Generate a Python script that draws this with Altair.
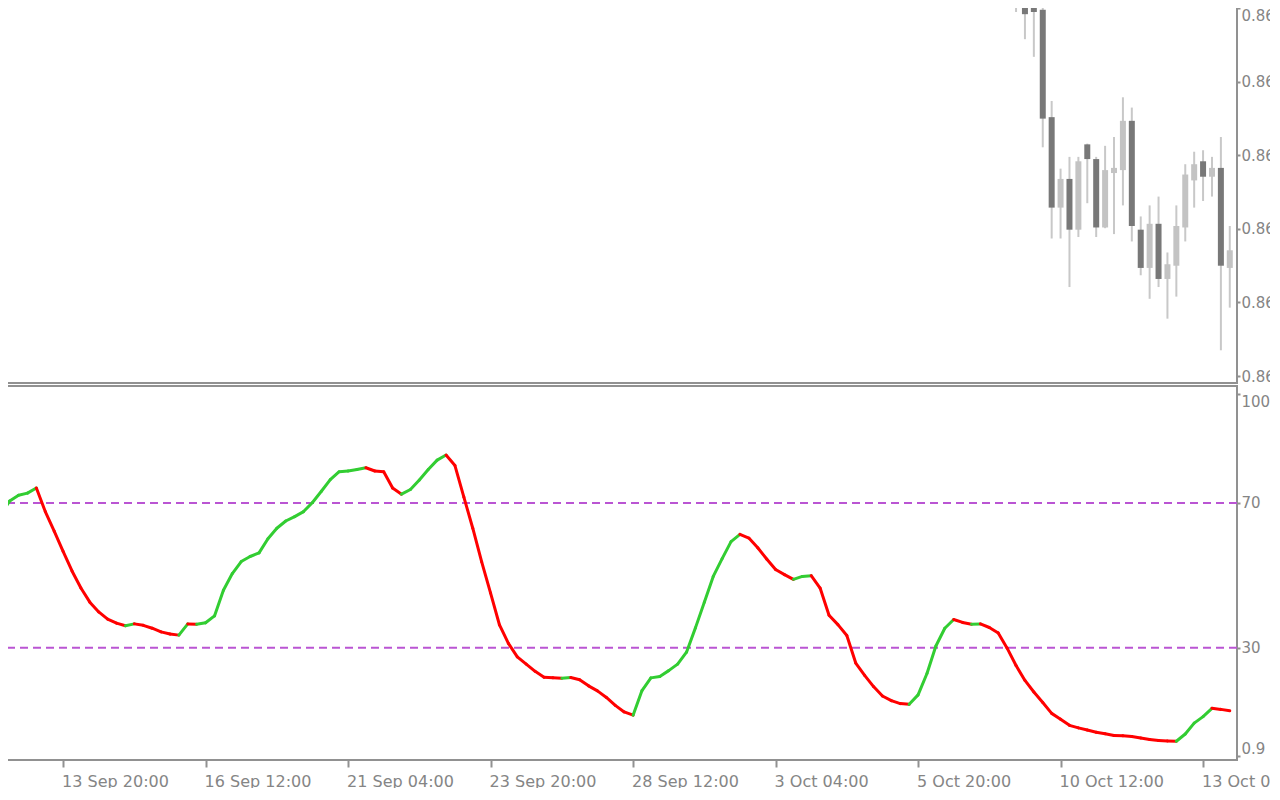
import altair as alt
import pandas as pd

# ---------------- data ----------------
# bar index k (4-hour bars, weekends skipped); k = 0 is "13 Sep 20:00"
osc_bar = list(range(-7, 132))
osc_value = [
    66.9, 70.5, 72.1, 72.7, 74.1, 67.6, 62.2,
    56.6, 51.2, 46.5, 42.6, 39.9, 37.9, 36.8, 36.1, 36.6, 36.2,
    35.4, 34.4, 33.8, 33.5, 36.6, 36.5, 36.9, 38.8, 45.9, 50.5,
    53.8, 55.2, 56.2, 60.1, 63.0, 65.0, 66.2, 67.6, 70.1, 73.2,
    76.4, 78.6, 78.8, 79.2, 79.7, 78.8, 78.6, 74.1, 72.4, 73.7,
    76.3, 79.2, 81.8, 83.2, 80.3, 71.6, 63.0, 53.7, 45.1, 36.3,
    31.2, 27.5, 25.5, 23.5, 21.9, 21.7, 21.6, 21.8, 21.2, 19.5,
    18.1, 16.3, 14.1, 12.3, 11.4, 18.2, 21.7, 22.1, 23.7, 25.5,
    28.8, 35.5, 42.6, 49.7, 54.6, 59.3, 61.3, 60.3, 57.6, 54.5,
    51.6, 50.2, 48.9, 49.7, 49.9, 46.5, 39.0, 36.4, 33.4, 25.8,
    22.4, 19.3, 16.7, 15.4, 14.6, 14.4, 17.0, 22.9, 30.5, 35.4,
    37.8, 37.0, 36.5, 36.6, 35.6, 34.1, 29.9, 25.1, 21.0, 17.8,
    14.9, 11.9, 10.3, 8.6, 7.9, 7.3, 6.7, 6.3, 5.8, 5.7,
    5.5, 5.1, 4.7, 4.4, 4.3, 4.2, 6.2, 9.2, 11.0, 13.3,
    13.0, 12.6,
]

levels = [70, 30]

candle_bar = list(range(107, 132))
candle_open = [0.86520, 0.86540, 0.86508, 0.86498, 0.86352, 0.86229, 0.86268,
               0.86199, 0.86315, 0.86295, 0.86202, 0.86276, 0.86280, 0.86347,
               0.86199, 0.86147, 0.86207, 0.86132, 0.86150, 0.86202, 0.86266,
               0.86292, 0.86271, 0.86283, 0.86147]
candle_high = [0.86580, 0.86560, 0.86520, 0.86520, 0.86374, 0.86282, 0.86298,
               0.86298, 0.86316, 0.86298, 0.86313, 0.86325, 0.86379, 0.86365,
               0.86217, 0.86232, 0.86244, 0.86168, 0.86232, 0.86288, 0.86305,
               0.86307, 0.86298, 0.86325, 0.86204]
candle_low = [0.86495, 0.86458, 0.86434, 0.86311, 0.86187, 0.86187, 0.86121,
              0.86189, 0.86235, 0.86189, 0.86201, 0.86193, 0.86232, 0.86183,
              0.86137, 0.86105, 0.86121, 0.86078, 0.86108, 0.86183, 0.86229,
              0.86238, 0.86244, 0.86035, 0.86093]
candle_close = [0.86560, 0.86492, 0.86495, 0.86350, 0.86229, 0.86268, 0.86199,
                0.86292, 0.86295, 0.86202, 0.86280, 0.86283, 0.86347, 0.86204,
                0.86147, 0.86207, 0.86132, 0.86152, 0.86204, 0.86274, 0.86288,
                0.86271, 0.86283, 0.86150, 0.86171]

price_ticks = [0.8650, 0.8640, 0.8630, 0.8620, 0.8610, 0.8600]

time_tick_bars = [0, 16, 32, 48, 64, 80, 96, 112, 128]
time_tick_labels = ["13 Sep 20:00", "16 Sep 12:00", "21 Sep 04:00", "23 Sep 20:00",
                    "28 Sep 12:00", "3 Oct 04:00", "5 Oct 20:00", "10 Oct 12:00",
                    "13 Oct 04:00"]

osc_ticks = [100, 70, 30, 0]
osc_tick_labels = ["100", "70", "30", "0.9"]

# ---------------- tables ----------------
seg = pd.DataFrame({
    "k": osc_bar[:-1],
    "k2": osc_bar[1:],
    "v": osc_value[:-1],
    "v2": osc_value[1:],
})
seg["dir"] = ["up" if b > a else "down" for a, b in zip(seg["v"], seg["v2"])]

candles = pd.DataFrame({
    "k": candle_bar, "open": candle_open, "high": candle_high,
    "low": candle_low, "close": candle_close,
})
candles["dir"] = ["bull" if c >= o else "bear" for o, c in zip(candles["open"], candles["close"])]

lev = pd.DataFrame({"level": levels})

# ---------------- scales / axes ----------------
W = 1238
xscale = alt.Scale(domain=[-7.197, 131.81], nice=False, zero=False)
pscale = alt.Scale(domain=[0.8599054, 0.8651128], nice=False, zero=False)
oscale = alt.Scale(domain=[-0.97, 102.26], nice=False, zero=False)


def arr(vals, quote):
    if quote:
        return "[" + ",".join("'" + v + "'" for v in vals) + "]"
    return "[" + ",".join(str(v) for v in vals) + "]"


time_expr = arr(time_tick_labels, True) + "[indexof(" + arr(time_tick_bars, False) + ", datum.value)]"
osc_expr = arr(osc_tick_labels, True) + "[indexof(" + arr(osc_ticks, False) + ", datum.value)]"

price_axis = alt.Axis(orient="right", values=price_ticks, format=".4f", title=None,
                      tickSize=3, domain=False, grid=False, labelPadding=1,
                      labelFontSize=15,
                      labelOverlap=False, labelFlush=False,
                      labelBaseline={"condition": [
                          {"test": "datum.value >= 0.8649", "value": "top"}],
                          "value": "middle"})

osc_axis = alt.Axis(orient="right", values=osc_ticks, labelExpr=osc_expr, title=None,
                    tickSize=3, domain=False, grid=False, labelPadding=1,
                    labelFontSize=15,
                    labelOverlap=False, labelFlush=False,
                    labelBaseline={"condition": [
                        {"test": "datum.value >= 100", "value": "top"},
                        {"test": "datum.value <= 0", "value": "bottom"}],
                        "value": "middle"})

time_axis = alt.Axis(orient="bottom", values=time_tick_bars, labelExpr=time_expr,
                     title=None, tickSize=7, domain=False, grid=False,
                     labelAlign="left", labelBaseline="top", labelPadding=6,
                     labelOffset=-1.5, labelOverlap=False, labelFlush=False)

# ---------------- top panel: candles ----------------
cbase = alt.Chart(candles).encode(x=alt.X("k:Q", scale=xscale, axis=None))
wicks = cbase.mark_rule(color="#c8c8c8", strokeWidth=2, clip=True).encode(
    y=alt.Y("low:Q", scale=pscale, axis=price_axis), y2="high:Q")
bodies = cbase.mark_rule(strokeWidth=6, clip=True, strokeCap="butt").encode(
    y=alt.Y("open:Q", scale=pscale, axis=price_axis), y2="close:Q",
    color=alt.Color("dir:N", scale=alt.Scale(domain=["bull", "bear"],
                                             range=["#c3c3c3", "#787878"]), legend=None))
top = alt.layer(wicks, bodies).properties(width=W, height=383)

# ---------------- bottom panel: oscillator ----------------
lvl = alt.Chart(lev).mark_rule(color="#BA55D3", strokeDash=[8, 5], strokeWidth=2).encode(
    y=alt.Y("level:Q", scale=oscale, axis=osc_axis))
line = alt.Chart(seg).mark_rule(strokeWidth=3, strokeCap="round").encode(
    x=alt.X("k:Q", scale=xscale, axis=time_axis), x2="k2:Q",
    y=alt.Y("v:Q", scale=oscale, axis=osc_axis), y2="v2:Q",
    color=alt.Color("dir:N", scale=alt.Scale(domain=["up", "down"],
                                             range=["#32CD32", "#FF0000"]), legend=None))
bottom = alt.layer(lvl, line).properties(width=W, height=374)

chart = alt.vconcat(top, bottom, spacing=3, bounds="flush").properties(
    padding={"left": -11, "top": -9, "right": -37, "bottom": -2},
    background="white",
).resolve_scale(color="independent").configure_view(
    stroke="#919191", strokeWidth=2
).configure_axis(
    labelFont="DejaVu Sans", labelFontSize=16, labelColor="#858585",
    tickColor="#919191", tickWidth=2
)

chart.save("out.html", embed_options={"renderer": "svg", "actions": False})
